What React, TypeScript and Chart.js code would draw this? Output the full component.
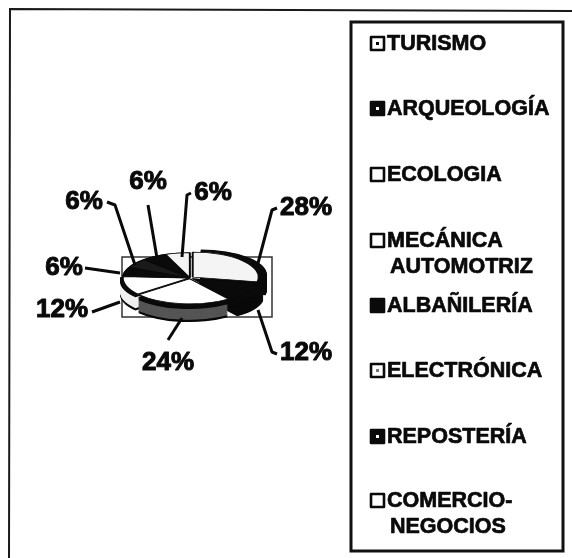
import React, { useEffect, useRef } from "react";
import { Chart, registerables } from "chart.js";

Chart.register(...registerables);

const categories = [
  ["TURISMO"],
  ["ARQUEOLOGÍA"],
  ["ECOLOGIA"],
  ["MECÁNICA", "AUTOMOTRIZ"],
  ["ALBAÑILERÍA"],
  ["ELECTRÓNICA"],
  ["REPOSTERÍA"],
  ["COMERCIO-", "NEGOCIOS"],
];
const percentages = [28, 12, 24, 12, 6, 6, 6, 6];
const sliceColors = ["#f4f4f4", "#0a0a0a", "#ffffff", "#ffffff", "#0a0a0a", "#1a1a1a", "#0a0a0a", "#f4f4f4"];
const swatchColors = ["#ffffff", "#0a0a0a", "#ffffff", "#ffffff", "#0a0a0a", "#ffffff", "#0a0a0a", "#ffffff"];
const swatchDots = ["#0a0a0a", "#ffffff", "", "", "", "#777777", "#ffffff", ""];
const depthEdge = ["#0a0a0a", "#0a0a0a", "#0a0a0a", "#0a0a0a", "#0a0a0a", "#0a0a0a", "#0a0a0a", "#0a0a0a"];
const depthMiddle = ["#0a0a0a", "#0a0a0a", "#555555", "#f0f0f0", "#0a0a0a", "#0a0a0a", "#0a0a0a", "#0a0a0a"];
const legendRows = [43, 108, 174, 240, 305, 370, 436, 500];

// label anchors and leader lines, per slice
const labelPlaces = [
  { text: [306, 208], line: [[277, 208], [272, 210], [257, 267]] },
  { text: [306, 353], line: [[258, 310], [272, 352], [277, 354]] },
  { text: [168, 363], line: [[182, 318], [168, 340]] },
  { text: [62, 310], line: [[120, 302], [92, 312]] },
  { text: [64, 268], line: [[120, 273], [85, 268]] },
  { text: [84, 202], line: [[135, 265], [115, 205], [107, 202]] },
  { text: [148, 182], line: [[157, 258], [148, 205]] },
  { text: [213, 193], line: [[182, 257], [187, 195], [191, 193]] },
];

const App = () => {
  const ref = useRef<HTMLCanvasElement>(null);
  useEffect(() => {
    const squash = 0.38;
    const depth = 16;
    const tracePath = (ctx: any, el: any, shift: number) => {
      const mid = (el.startAngle + el.endAngle) / 2;
      const off = el.options.offset || 0;
      const cx = el.x + Math.cos(mid) * off;
      const cy = el.y + Math.sin(mid) * off + shift;
      ctx.beginPath();
      ctx.moveTo(cx, cy);
      ctx.arc(cx, cy, el.outerRadius, el.startAngle, el.endAngle);
      ctx.closePath();
    };
    const frame = {
      id: "frame",
      beforeDraw(chart: any) {
        const ctx = chart.ctx;
        ctx.save();
        ctx.fillStyle = "#ffffff";
        ctx.fillRect(0, 0, 572, 558);
        ctx.strokeStyle = "#1a1a1a";
        ctx.lineWidth = 2;
        ctx.beginPath();
        ctx.moveTo(572, 11);
        ctx.lineTo(10, 9);
        ctx.lineTo(9, 558);
        ctx.stroke();
        ctx.strokeStyle = "#111111";
        ctx.lineWidth = 3;
        ctx.strokeRect(351, 22, 212, 529);
        ctx.lineWidth = 1.5;
        ctx.strokeStyle = "#333333";
        ctx.strokeRect(122, 257, 150, 60);
        ctx.restore();
      },
    };
    const depthPlugin = {
      id: "depth",
      beforeDatasetsDraw(chart: any) {
        const ctx = chart.ctx;
        const arcs = chart.getDatasetMeta(0).data;
        const cx = arcs[0].x;
        const cy = arcs[0].y;
        ctx.save();
        ctx.translate(cx, cy);
        ctx.scale(1, squash);
        ctx.translate(-cx, -cy);
        const total = depth / squash;
        for (let s = total; s > 0; s -= 1.5) {
          arcs.forEach((el: any, i: number) => {
            tracePath(ctx, el, s);
            ctx.fillStyle = s > total - 6 || s < 8 ? depthEdge[i] : depthMiddle[i];
            ctx.fill();
          });
        }
      },
      afterDatasetsDraw(chart: any) {
        chart.ctx.restore();
      },
    };
    const annotations = {
      id: "annotations",
      afterDraw(chart: any) {
        const ctx = chart.ctx;
        ctx.save();
        ctx.strokeStyle = "#0a0a0a";
        ctx.fillStyle = "#0a0a0a";
        ctx.textBaseline = "middle";
        ctx.textAlign = "center";
        ctx.lineJoin = "round";
        percentages.forEach((p, i) => {
          const place = labelPlaces[i];
          ctx.lineWidth = 3;
          ctx.beginPath();
          place.line.forEach(([x, y], k) => (k ? ctx.lineTo(x, y) : ctx.moveTo(x, y)));
          ctx.stroke();
          ctx.font = "bold 26px 'Liberation Sans'";
          ctx.lineWidth = 1;
          ctx.fillText(`${p}%`, place.text[0], place.text[1]);
          ctx.strokeText(`${p}%`, place.text[0], place.text[1]);
        });
        ctx.textAlign = "left";
        categories.forEach((lines, i) => {
          const y = legendRows[i];
          ctx.fillStyle = swatchColors[i];
          ctx.fillRect(371, y - 6, 13, 13);
          ctx.lineWidth = 2.6;
          ctx.strokeRect(371, y - 6, 13, 13);
          if (swatchDots[i]) {
            ctx.fillStyle = swatchDots[i];
            ctx.fillRect(376, y - 1, 3, 3);
          }
          ctx.fillStyle = "#0a0a0a";
          ctx.font = "bold 21.5px 'Liberation Sans'";
          ctx.lineWidth = 0.7;
          lines.forEach((line, k) => {
            const x = 387 + (k ? 3 : 0);
            ctx.fillText(line, x, y + 1 + k * 26);
            ctx.strokeText(line, x, y + 1 + k * 26);
          });
        });
        ctx.restore();
      },
    };
    const chart = new Chart(ref.current!, {
      type: "pie",
      data: {
        labels: categories.map((c) => c.join(" ")),
        datasets: [
          {
            data: percentages,
            backgroundColor: sliceColors,
            borderColor: "#0a0a0a",
            borderWidth: 2,
            offset: [14, 10, 8, 4, 2, 2, 2, 2],
          },
        ],
      },
      options: {
        responsive: false,
        animation: false,
        events: [],
        rotation: 0,
        layout: { padding: { left: 116, right: 308, top: 204, bottom: 206 } },
        plugins: { legend: { display: false }, tooltip: { enabled: false } },
      } as any,
      plugins: [frame, depthPlugin, annotations],
    });
    return () => chart.destroy();
  }, []);
  return (
    <canvas
      ref={ref}
      width={572}
      height={558}
      style={{ position: "absolute", left: 0, top: 0, display: "block" }}
    />
  );
};

export default App;
